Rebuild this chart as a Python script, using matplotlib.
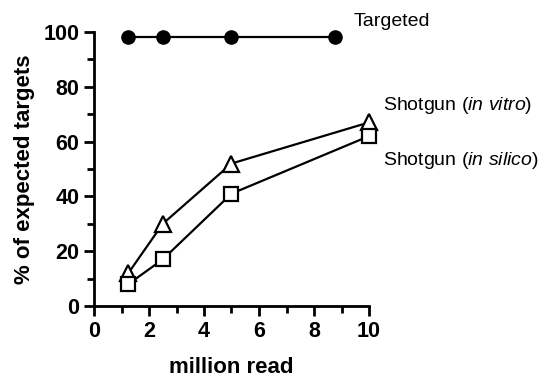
import matplotlib
matplotlib.use('Agg')
import matplotlib.pyplot as plt
from matplotlib.ticker import MultipleLocator

# data
targeted_x = [1.25, 2.5, 5, 8.75]
targeted_y = [98, 98, 98, 98]

vitro_x = [1.25, 2.5, 5, 10]
vitro_y = [12, 30, 52, 67]

silico_x = [1.25, 2.5, 5, 10]
silico_y = [8, 17, 41, 62]

plt.rcParams['font.family'] = ['Liberation Sans', 'DejaVu Sans']
plt.rcParams['mathtext.fontset'] = 'custom'
plt.rcParams['mathtext.rm'] = 'Liberation Sans'
plt.rcParams['mathtext.it'] = 'Liberation Sans:italic'

fig = plt.figure(figsize=(5.44, 3.77), dpi=100)
ax = fig.add_axes([94/544, 1-306/377, 275/544, 274/377])

ax.plot(targeted_x, targeted_y, color='black', lw=1.6, marker='o', ms=9.5,
        clip_on=False, zorder=3)
ax.plot(vitro_x, vitro_y, color='black', lw=1.6, marker='^', ms=11,
        mfc='white', mec='black', mew=1.6, clip_on=False, zorder=3)
ax.plot(silico_x, silico_y, color='black', lw=1.6, marker='s', ms=10.5,
        mfc='white', mec='black', mew=1.6, clip_on=False, zorder=3)

ax.set_xlim(0, 10)
ax.set_ylim(0, 100)
ax.xaxis.set_major_locator(MultipleLocator(2))
ax.xaxis.set_minor_locator(MultipleLocator(1))
ax.yaxis.set_major_locator(MultipleLocator(20))
ax.yaxis.set_minor_locator(MultipleLocator(10))

for s in ['top', 'right']:
    ax.spines[s].set_visible(False)
for s in ['left', 'bottom']:
    ax.spines[s].set_linewidth(2)
ax.tick_params(which='major', length=7, width=2, labelsize=15.5)
ax.tick_params(which='minor', length=5, width=2)
for lab in ax.get_xticklabels() + ax.get_yticklabels():
    lab.set_fontweight('bold')

ax.set_xlabel('million read', fontsize=16, fontweight='bold', labelpad=11)
ax.set_ylabel('% of expected targets', fontsize=16, fontweight='bold', labelpad=6)

ax.text(9.45, 104, 'Targeted', fontsize=14, ha='left', va='center')
ax.text(10.5, 73, 'Shotgun ($\\it{in\\ vitro}$)', fontsize=14, ha='left', va='center')
ax.text(10.5, 53, 'Shotgun ($\\it{in\\ silico}$)', fontsize=14, ha='left', va='center')

fig.savefig('out.png', dpi=100)
